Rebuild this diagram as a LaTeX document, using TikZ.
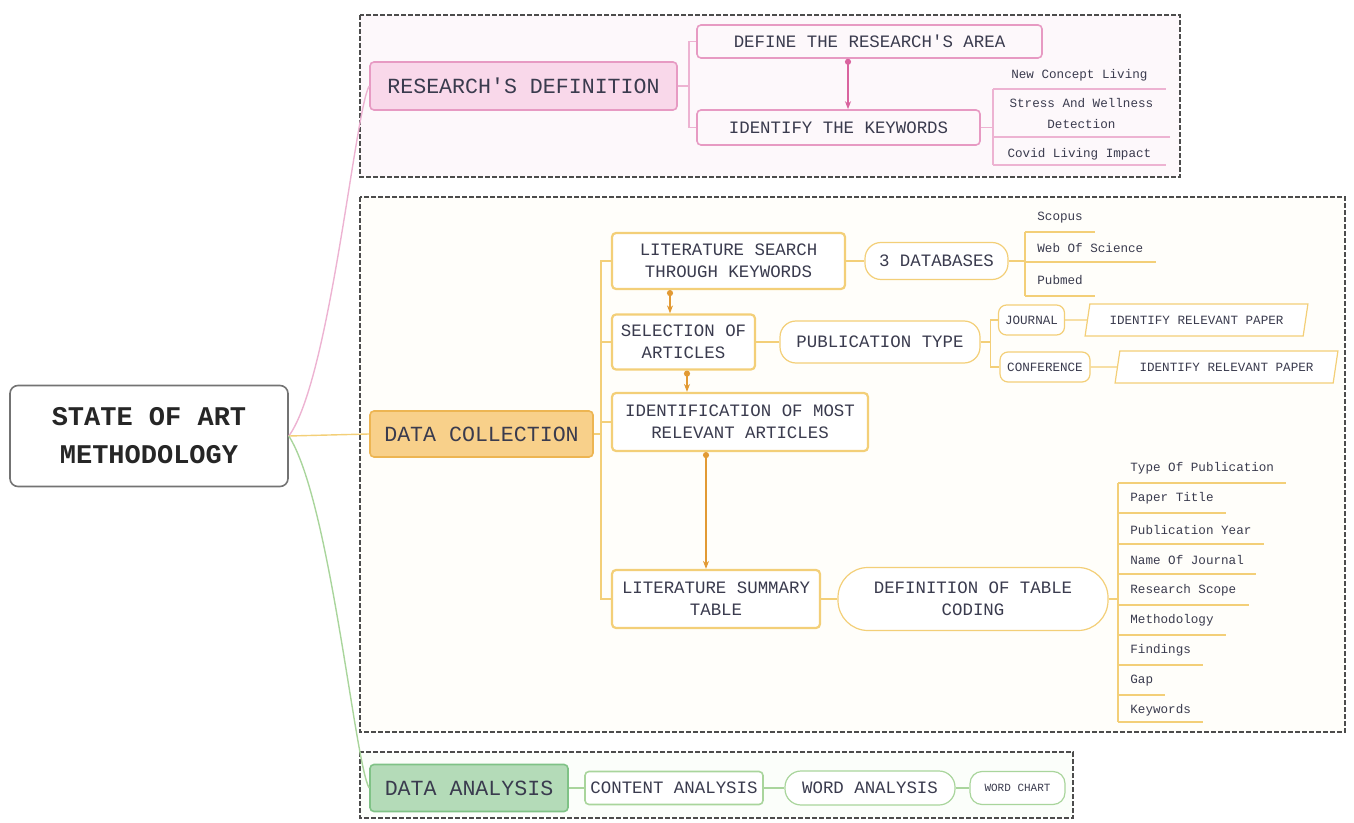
\documentclass[tikz,border=0pt]{standalone}
\usepackage{fontspec}
\setmonofont{Liberation Mono}
\usetikzlibrary{arrows.meta,shapes.geometric}

\definecolor{txt}{HTML}{3A3B4E}
\definecolor{rdfill}{HTML}{F9D8EA}
\definecolor{rdline}{HTML}{E79AC3}
\definecolor{pinkln}{HTML}{EDB3D2}
\definecolor{pinkarr}{HTML}{D9649F}
\definecolor{dcfill}{HTML}{F8D08A}
\definecolor{dcline}{HTML}{EDB552}
\definecolor{yln}{HTML}{F3CF78}
\definecolor{yarr}{HTML}{E29A34}
\definecolor{dafill}{HTML}{B4DBB8}
\definecolor{daline}{HTML}{7FC286}
\definecolor{gln}{HTML}{A9D59C}
\definecolor{pinkzone}{HTML}{FDF8FB}
\definecolor{yzone}{HTML}{FFFEFA}
\definecolor{gzone}{HTML}{FBFEFA}

\tikzset{
  zone/.style={draw=black!70, dash pattern=on 2.5pt off 1pt, line width=0.7pt},
  rootfont/.style={font=\ttfamily\bfseries\fontsize{13.5}{19}\selectfont, text=black!85},
  big/.style={font=\ttfamily\fontsize{10.8}{13}\selectfont, text=txt},
  mid/.style={font=\ttfamily\fontsize{8.7}{11}\selectfont, text=txt},
  tiny/.style={font=\ttfamily\fontsize{6.3}{10.5}\selectfont, text=txt},
  box/.style={draw, rounded corners=2pt, inner sep=0pt, align=center, line width=0.8pt},
  pill/.style={draw, rounded corners=8pt, inner sep=0pt, align=center, line width=0.6pt},
  leaf/.style={tiny, anchor=south west, inner xsep=6pt, inner ysep=0pt, minimum height=14pt, align=center},
  pinkline/.style={draw=pinkln, line width=0.7pt},
  yline/.style={draw=yln, line width=0.7pt},
  gline/.style={draw=gln, line width=0.7pt},
  pinkarrow/.style={draw=pinkarr, line width=0.9pt, {Circle[length=3pt]}-{Stealth[length=4pt]}},
  yarrow/.style={draw=yarr, line width=1pt, {Circle[length=3pt]}-{Stealth[length=4pt]}},
  pinkbox/.style={box, mid, draw=rdline, fill=pinkzone},
  ybox/.style={box, mid, draw=yln, fill=white, line width=1.1pt},
  ypill/.style={pill, draw=yln, fill=white},
  para/.style={trapezium, trapezium left angle=65, trapezium right angle=115,
    trapezium stretches=true, draw=yln, fill=white, inner sep=0pt, tiny, line width=0.6pt}
}

\begin{document}
\begin{tikzpicture}[x=0.5pt, y=-0.5pt]
\useasboundingbox (0,0) rectangle (1354,823);

% zones
\draw[zone, fill=pinkzone] (360,15) rectangle (1180,177);
\draw[zone, fill=yzone] (360,197) rectangle (1345,732);
\draw[zone, fill=gzone] (360,752) rectangle (1073,818);

% root
\node[box, rootfont, draw=black!55, fill=white, rounded corners=4pt, minimum width=139pt, minimum height=50.5pt] (root) at (149,436) {STATE OF ART\\METHODOLOGY};

% research's definition
\node[box, big, draw=rdline, fill=rdfill, minimum width=153.5pt, minimum height=24pt] (rd) at (523.5,86) {RESEARCH'S DEFINITION};
\node[pinkbox, minimum width=172.5pt, minimum height=16.5pt] (dra) at (869.5,41.5) {DEFINE THE RESEARCH'S AREA};
\node[pinkbox, minimum width=141.5pt, minimum height=17.5pt] (ik) at (838.5,127.5) {IDENTIFY THE KEYWORDS};
\node[leaf, minimum width=86pt, minimum height=13pt] (kw1) at (993,89) {New Concept Living};
\node[leaf, minimum width=88pt, minimum height=23.5pt] (kw2) at (993,137) {Stress And Wellness\\Detection};
\node[leaf, minimum width=86pt, minimum height=10pt] (kw3) at (993,165) {Covid Living Impact};

% data collection
\node[box, big, draw=dcline, fill=dcfill, minimum width=111.5pt, minimum height=23pt] (dc) at (481.5,434) {DATA COLLECTION};
\node[ybox, minimum width=116.5pt, minimum height=28pt] (ls) at (728.5,261) {LITERATURE SEARCH\\THROUGH KEYWORDS};
\node[ybox, minimum width=71.5pt, minimum height=27.5pt] (sa) at (683.5,342) {SELECTION OF\\ARTICLES};
\node[ybox, minimum width=128pt, minimum height=29pt] (imra) at (740,422) {IDENTIFICATION OF MOST\\RELEVANT ARTICLES};
\node[ybox, minimum width=104pt, minimum height=29pt] (lst) at (716,599) {LITERATURE SUMMARY\\TABLE};
\node[ypill, mid, minimum width=71.5pt, minimum height=18.5pt] (db) at (936.5,261) {3 DATABASES};
\node[leaf] (s1) at (1025,232) {Scopus};
\node[leaf] (s2) at (1025,262) {Web Of Science};
\node[leaf, minimum height=16pt] (s3) at (1025,296) {Pubmed};
\node[ypill, mid, minimum width=100pt, minimum height=21pt] (pt) at (880,342) {PUBLICATION TYPE};
\node[ypill, tiny, rounded corners=4pt, minimum width=33pt, minimum height=15pt] (jr) at (1031.5,320) {JOURNAL};
\node[ypill, tiny, rounded corners=4pt, minimum width=45pt, minimum height=15pt] (cf) at (1045,367) {CONFERENCE};
\node[para, minimum width=111.5pt, minimum height=16pt] (p1) at (1196.5,320) {IDENTIFY RELEVANT PAPER};
\node[para, minimum width=111.5pt, minimum height=16pt] (p2) at (1226.5,367) {IDENTIFY RELEVANT PAPER};
\node[ypill, mid, rounded corners=15pt, minimum width=135pt, minimum height=31.5pt] (dtc) at (973,599) {DEFINITION OF TABLE\\CODING};
\node[leaf] (t1) at (1118,483) {Type Of Publication};
\node[leaf] (t2) at (1118,513) {Paper Title};
\node[leaf] (t3) at (1118,544) {Publication Year};
\node[leaf] (t4) at (1118,574) {Name Of Journal};
\node[leaf] (t5) at (1118,605) {Research Scope};
\node[leaf] (t6) at (1118,635) {Methodology};
\node[leaf] (t7) at (1118,665) {Findings};
\node[leaf] (t8) at (1118,695) {Gap};
\node[leaf, minimum height=11pt] (t9) at (1118,722) {Keywords};

% data analysis
\node[box, big, draw=daline, fill=dafill, minimum width=99pt, minimum height=23.5pt] (da) at (469,788) {DATA ANALYSIS};
\node[box, mid, draw=gln, fill=white, minimum width=89pt, minimum height=16.5pt] (ca) at (674,788) {CONTENT ANALYSIS};
\node[pill, mid, draw=gln, fill=white, minimum width=85pt, minimum height=17pt] (wa) at (870,788) {WORD ANALYSIS};
\node[pill, draw=gln, fill=white, rounded corners=6pt, minimum width=47.5pt, minimum height=16.5pt,
  font=\ttfamily\fontsize{5.5}{7}\selectfont, text=txt] (wc) at (1017.5,788) {WORD CHART};

% root branches
\draw[pinkline] (root.east) .. controls (330,380) and (355,110) .. (rd.west);
\draw[yline] (root.east) -- (dc.west);
\draw[gline] (root.east) .. controls (330,500) and (355,765) .. (da.west);

% pink branch
\draw[pinkline] (rd.east) -- ++(11,0) |- (dra.west);
\draw[pinkline] (rd.east) -- ++(11,0) |- (ik.west);
\draw[pinkarrow] ([xshift=-10.75pt]dra.south) -- ([xshift=-10.75pt]dra.south |- ik.north);
\draw[pinkline] (ik.east) -| (kw1.south west);
\draw[pinkline] (ik.east) -| (kw3.south west);
\path (kw1.south west) edge[pinkline] (kw1.south east);
\path (kw2.south west) edge[pinkline] (kw2.south east);
\path (kw3.south west) edge[pinkline] (kw3.south east);

% yellow branch
\draw[yline] (dc.east) -- ++(7,0) |- (ls.west);
\draw[yline] (dc.east) -- ++(7,0) |- (sa.west);
\draw[yline] (dc.east) -- ++(7,0) |- (imra.west);
\draw[yline] (dc.east) -- ++(7,0) |- (lst.west);
\draw[yarrow] ([xshift=-6.75pt]sa.north |- ls.south) -- ([xshift=-6.75pt]sa.north);
\draw[yarrow] ([xshift=1.75pt]sa.south) -- ([xshift=1.75pt]sa.south |- imra.north);
\draw[yarrow] ([xshift=-17pt]imra.south) -- ([xshift=-17pt]imra.south |- lst.north);
\draw[yline] (ls.east) -- (db.west);
\draw[yline] (db.east) -| (s1.south west);
\draw[yline] (db.east) -| (s3.south west);
\path (s1.south west) edge[yline] (s1.south east);
\path (s2.south west) edge[yline] (s2.south east);
\path (s3.south west) edge[yline] (s3.south east);
\draw[yline] (sa.east) -- (pt.west);
\draw[yline] (pt.east) -- ++(10,0) |- (jr.west);
\draw[yline] (pt.east) -- ++(10,0) |- (cf.west);
\draw[yline] (jr.east) -- (p1.west);
\draw[yline] (cf.east) -- (p2.west);
\draw[yline] (lst.east) -- (dtc.west);
\draw[yline] (dtc.east) -| (t1.south west);
\draw[yline] (dtc.east) -| (t9.south west);
\path (t1.south west) edge[yline] (t1.south east);
\path (t2.south west) edge[yline] (t2.south east);
\path (t3.south west) edge[yline] (t3.south east);
\path (t4.south west) edge[yline] (t4.south east);
\path (t5.south west) edge[yline] (t5.south east);
\path (t6.south west) edge[yline] (t6.south east);
\path (t7.south west) edge[yline] (t7.south east);
\path (t8.south west) edge[yline] (t8.south east);
\path (t9.south west) edge[yline] (t9.south east);

% green branch
\draw[gline] (da.east) -- (ca.west);
\draw[gline] (ca.east) -- (wa.west);
\draw[gline] (wa.east) -- (wc.west);
\end{tikzpicture}
\end{document}
